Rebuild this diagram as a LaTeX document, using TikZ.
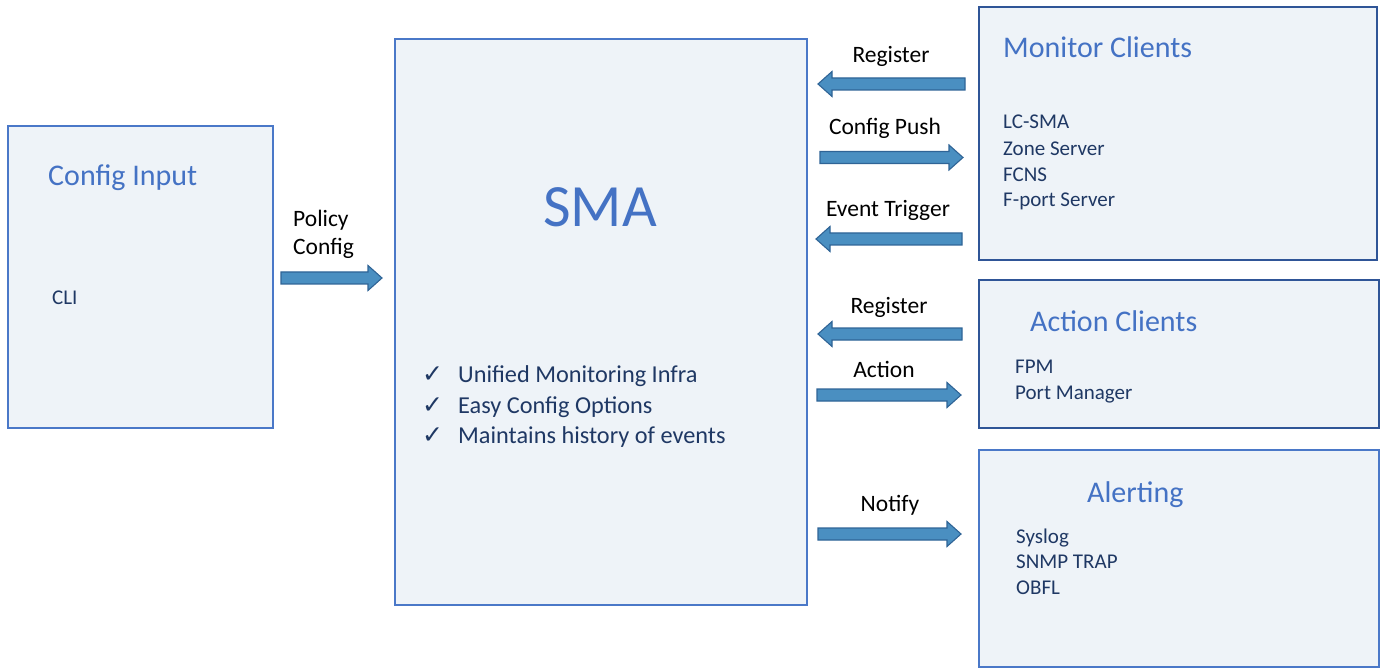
\documentclass[tikz,border=0pt]{standalone}
\usepackage{fontspec}
\setmainfont{Carlito}
\newfontfamily\symfont{DejaVu Sans}
\usetikzlibrary{calc}
\definecolor{boxfill}{HTML}{EEF3F8}
\definecolor{boxline}{HTML}{4A78C8}
\definecolor{boxdark}{HTML}{2F5597}
\definecolor{titleblue}{HTML}{4472C4}
\definecolor{bodynavy}{HTML}{1F3864}
\definecolor{arrfill}{HTML}{4A8FC1}
\definecolor{arrline}{HTML}{2F6496}
\tikzset{
  panel/.style={draw=boxline, fill=boxfill, line width=1.6pt},
  paneldark/.style={draw=boxdark, fill=boxfill, line width=1.6pt},
  title/.style={anchor=base west, inner sep=0pt, text=titleblue, font=\fontsize{30}{36}\selectfont},
  body/.style={anchor=base west, inner sep=0pt, text=bodynavy, font=\fontsize{21}{26}\selectfont},
  check/.style={anchor=base west, inner sep=0pt, text=bodynavy, font=\fontsize{24.3}{30}\selectfont},
  lbl/.style={anchor=base, inner sep=0pt, text=black, font=\fontsize{23.5}{28}\selectfont},
  barrow/.style={draw=arrline, fill=arrfill, line width=1.1pt, line join=miter,
    to path={let \p1=(\tikztostart), \p2=(\tikztotarget),
      \n1={ifthenelse(\x2>\x1,-14,14)} in
      (\x1,\y1+6pt) -- ({\x2+\n1*1pt},\y1+6pt) -- ({\x2+\n1*1pt},\y1+12.5pt) -- (\x2,\y1)
      -- ({\x2+\n1*1pt},\y1-12.5pt) -- ({\x2+\n1*1pt},\y1-6pt) -- (\x1,\y1-6pt) -- cycle}}
}
\begin{document}
\begin{tikzpicture}[x=1pt,y=-1pt]
\useasboundingbox (0,0) rectangle (1381,668);
% boxes
\draw[panel] (8,126) rectangle (273,428);
\draw[panel] (395,39) rectangle (807,605);
\draw[paneldark] (979,7) rectangle (1377,260);
\draw[paneldark] (979,280) rectangle (1379,428);
\draw[panel] (979,450) rectangle (1379,667);
% config input
\node[title] (cfgt) at (48,186) {Config Input};
\node[body] (cli) at (52,305) {CLI};
% SMA
\node[anchor=base, inner sep=0pt, text=titleblue, font=\fontsize{60}{70}\selectfont] (sma) at (600,227) {SMA};
\foreach \yy/\tt [count=\i] in {382/Unified Monitoring Infra, 413/Easy Config Options, 443/Maintains history of events}{
  \node[anchor=base west, inner sep=0pt, text=bodynavy, font=\symfont\fontsize{25}{30}\selectfont] (ck\i) at (422,\yy) {✓};
  \node[check] (cl\i) at (458,\yy) {\tt};
}
% monitor clients
\node[title] (mont) at (1003,58) {Monitor Clients};
\node[body] (m1) at (1003,129) {LC-SMA};
\node[body] (m2) at (1003,156) {Zone Server};
\node[body] (m3) at (1003,182) {FCNS};
\node[body] (m4) at (1003,207) {F-port Server};
% action clients
\node[title] (actt) at (1030,331) {Action Clients};
\node[body] (a1) at (1015,373) {FPM};
\node[body] (a2) at (1015,399) {Port Manager};
% alerting
\node[title] (alt) at (1087,502) {Alerting};
\node[body] (l1) at (1016,543) {Syslog};
\node[body] (l2) at (1016,568) {SNMP TRAP};
\node[body] (l3) at (1016,594) {OBFL};
% arrow labels
\node[lbl, anchor=base west] (pc1) at (293,227) {Policy};
\node[lbl, anchor=base west] (pc2) at (293,255) {Config};
\node[lbl] (t1) at (891,63) {Register};
\node[lbl] (t2) at (885,135) {Config Push};
\node[lbl] (t3) at (888,217) {Event Trigger};
\node[lbl] (t4) at (889,313) {Register};
\node[lbl] (t5) at (884,377) {Action};
\node[lbl] (t6) at (890,511) {Notify};
% arrow end points
\coordinate (p0) at (281,278);   \coordinate (p1) at (382,278);
\coordinate (r1a) at (965,84);   \coordinate (r1b) at (818,84);
\coordinate (cpa) at (820,157.5);\coordinate (cpb) at (963,157.5);
\coordinate (eta) at (962,239);  \coordinate (etb) at (816,239);
\coordinate (r2a) at (962,334);  \coordinate (r2b) at (818,334);
\coordinate (aca) at (817,395);  \coordinate (acb) at (961,395);
\coordinate (nta) at (818,534);  \coordinate (ntb) at (961,534);
\path[barrow] (p0) to (p1);
\path[barrow] (r1a) to (r1b);
\path[barrow] (cpa) to (cpb);
\path[barrow] (eta) to (etb);
\path[barrow] (r2a) to (r2b);
\path[barrow] (aca) to (acb);
\path[barrow] (nta) to (ntb);
\end{tikzpicture}
\end{document}
